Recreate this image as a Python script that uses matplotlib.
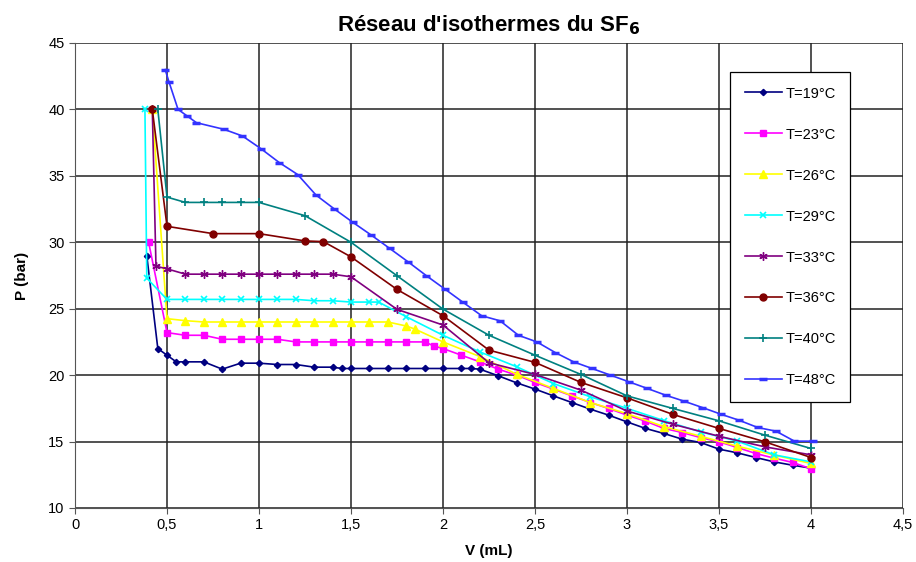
import matplotlib.pyplot as plt
from matplotlib.ticker import FuncFormatter

plt.rcParams['font.family'] = ['Liberation Sans', 'DejaVu Sans']

# isotherm readings: V in mL, P in bar
V19 = [0.39, 0.45, 0.5, 0.55, 0.6, 0.7, 0.8, 0.9, 1.0, 1.1, 1.2, 1.3, 1.4, 1.45, 1.5, 1.6, 1.7, 1.8,
       1.9, 2.0, 2.1, 2.15, 2.2, 2.3, 2.4, 2.5, 2.6, 2.7, 2.8, 2.9, 3.0, 3.1, 3.2, 3.3, 3.4, 3.5, 3.6,
       3.7, 3.8, 3.9, 4.0]
P19 = [29.0, 22.0, 21.5, 21.0, 21.0, 21.0, 20.45, 20.9, 20.9, 20.8, 20.8, 20.6, 20.6, 20.5, 20.5, 20.5,
       20.5, 20.5, 20.5, 20.5, 20.5, 20.5, 20.45, 19.95, 19.42, 18.95, 18.44, 17.94, 17.44, 16.99, 16.48,
       15.99, 15.61, 15.18, 14.93, 14.43, 14.15, 13.8, 13.47, 13.22, 13.0]

V23 = [0.4, 0.5, 0.6, 0.7, 0.8, 0.9, 1.0, 1.1, 1.2, 1.3, 1.4, 1.5, 1.6, 1.7, 1.8, 1.9, 1.95, 2.0, 2.1,
       2.2, 2.3, 2.4, 2.5, 2.6, 2.7, 2.8, 2.9, 3.0, 3.1, 3.2, 3.3, 3.4, 3.5, 3.6, 3.7, 3.8, 3.9, 4.0]
P23 = [30.0, 23.2, 23.0, 23.0, 22.7, 22.7, 22.7, 22.7, 22.5, 22.5, 22.5, 22.5, 22.5, 22.5, 22.5, 22.5,
       22.2, 22.0, 21.5, 21.0, 20.45, 20.0, 19.45, 18.95, 18.44, 17.94, 17.49, 16.99, 16.54, 15.99,
       15.68, 15.3, 14.98, 14.55, 14.1, 13.75, 13.43, 12.95]

V26 = [0.42, 0.5, 0.6, 0.7, 0.8, 0.9, 1.0, 1.1, 1.2, 1.3, 1.4, 1.5, 1.6, 1.7, 1.8, 1.85, 2.0, 2.2,
       2.4, 2.6, 2.8, 3.0, 3.2, 3.4, 3.6, 3.8, 4.0]
P26 = [40.0, 24.25, 24.1, 24.0, 24.0, 24.0, 24.0, 24.0, 24.0, 24.0, 24.0, 24.0, 24.0, 24.0, 23.7,
       23.45, 22.5, 21.4, 20.07, 19.0, 17.94, 17.1, 16.13, 15.4, 14.65, 13.98, 13.35]

V29 = [0.38, 0.39, 0.5, 0.6, 0.7, 0.8, 0.9, 1.0, 1.1, 1.2, 1.3, 1.4, 1.5, 1.6, 1.65, 1.8, 2.0, 2.2,
       2.4, 2.6, 2.8, 3.0, 3.2, 3.4, 3.6, 3.8, 4.0]
P29 = [40.0, 27.3, 25.7, 25.7, 25.7, 25.7, 25.7, 25.7, 25.7, 25.7, 25.6, 25.6, 25.5, 25.5, 25.5, 24.4,
       23.0, 21.75, 20.63, 19.37, 18.37, 17.5, 16.58, 15.73, 15.03, 14.0, 13.47]

V33 = [0.42, 0.44, 0.5, 0.6, 0.7, 0.8, 0.9, 1.0, 1.1, 1.2, 1.3, 1.4, 1.5, 1.75, 2.0, 2.25, 2.5, 2.75,
       3.0, 3.25, 3.5, 3.75, 4.0]
P33 = [40.0, 28.2, 28.0, 27.6, 27.6, 27.6, 27.6, 27.6, 27.6, 27.6, 27.6, 27.6, 27.4, 24.95, 23.77,
       20.93, 20.05, 18.87, 17.3, 16.3, 15.4, 14.6, 14.0]

V36 = [0.42, 0.5, 0.75, 1.0, 1.25, 1.35, 1.5, 1.75, 2.0, 2.25, 2.5, 2.75, 3.0, 3.25, 3.5, 3.75, 4.0]
P36 = [40.0, 31.2, 30.65, 30.65, 30.1, 30.05, 28.9, 26.45, 24.47, 21.88, 20.96, 19.45, 18.29, 17.04,
       15.99, 14.98, 13.8]

V40 = [0.45, 0.5, 0.6, 0.7, 0.8, 0.9, 1.0, 1.25, 1.5, 1.75, 2.0, 2.25, 2.5, 2.75, 3.0, 3.25, 3.5,
       3.75, 4.0]
P40 = [40.0, 33.4, 33.0, 33.0, 33.0, 33.0, 33.0, 32.0, 30.0, 27.48, 24.97, 23.0, 21.5, 20.05, 18.44,
       17.49, 16.56, 15.48, 14.48]

V48 = [0.49, 0.51, 0.56, 0.61, 0.66, 0.81, 0.91, 1.01, 1.11, 1.21, 1.31, 1.41, 1.51, 1.61, 1.71,
       1.81, 1.91, 2.01, 2.11, 2.21, 2.31, 2.41, 2.51, 2.61, 2.71, 2.81, 2.91, 3.01, 3.11, 3.21, 3.31,
       3.41, 3.51, 3.61, 3.71, 3.81, 3.91, 4.01]
P48 = [43.0, 42.1, 40.0, 39.5, 39.0, 38.5, 38.0, 37.05, 36.0, 35.1, 33.55, 32.5, 31.5, 30.54, 29.54,
       28.53, 27.48, 26.48, 25.47, 24.47, 24.09, 23.0, 22.5, 21.7, 21.0, 20.5, 20.0, 19.5, 19.0,
       18.49, 18.04, 17.56, 17.06, 16.6, 16.06, 15.78, 15.03, 15.03]

LABELS = ["T=19°C", "T=23°C", "T=26°C", "T=29°C", "T=33°C", "T=36°C", "T=40°C", "T=48°C"]

fig = plt.figure(figsize=(9.16, 5.62), dpi=100)
ax = fig.add_axes([0.0819, 0.0961, 0.9039, 0.8274])

styles = [
    (V19, P19, "#000080", "D", 3.2, 1.0),
    (V23, P23, "#FF00FF", "s", 5, 1.0),
    (V26, P26, "#FFFF00", "^", 5.5, 1.0),
    (V29, P29, "#00FFFF", "x", 5, 1.2),
    (V33, P33, "#800080", (6, 2, 0), 6, 1.0),
    (V36, P36, "#800000", "o", 5, 1.0),
    (V40, P40, "#008080", "+", 6, 1.2),
    (V48, P48, "#3333FF", "_", 6, 2.5),
]
for (v, p, c, m, ms, mew), lab in zip(styles, LABELS):
    ax.plot(v, p, color=c, lw=1.2, marker=m, ms=ms, mew=mew, mec=c, mfc=c, label=lab)

ax.set_xlim(0, 4.5)
ax.set_ylim(10, 45)
ax.set_xticks([i * 0.5 for i in range(10)])
ax.set_yticks(range(10, 50, 5))
ax.xaxis.set_major_formatter(FuncFormatter(lambda x, pos: f"{x:g}".replace(".", ",")))
ax.grid(True, color="#222222", lw=1.1)
ax.set_axisbelow(True)
for s in ["top", "right"]:
    ax.spines[s].set_visible(False)
for s in ["left", "bottom"]:
    ax.spines[s].set_color("#555555")
ax.tick_params(labelsize=10.5, length=4, color="#555555")

ax.set_title("Réseau d'isothermes du SF$_\\mathbf{6}$", fontsize=16, fontweight="bold", pad=8)
ax.set_xlabel("V (mL)", fontsize=11, fontweight="bold", labelpad=8)
ax.set_ylabel("P (bar)", fontsize=11, fontweight="bold", labelpad=14)

leg = ax.legend(loc="upper left", bbox_to_anchor=(0.791, 0.9376), fontsize=10.5,
                labelspacing=1.85, handlelength=2.6, handletextpad=0.2, borderpad=1.0,
                fancybox=False, framealpha=1, edgecolor="black", borderaxespad=0)
leg.get_frame().set_linewidth(0.9)

fig.savefig("out.png", dpi=100)
